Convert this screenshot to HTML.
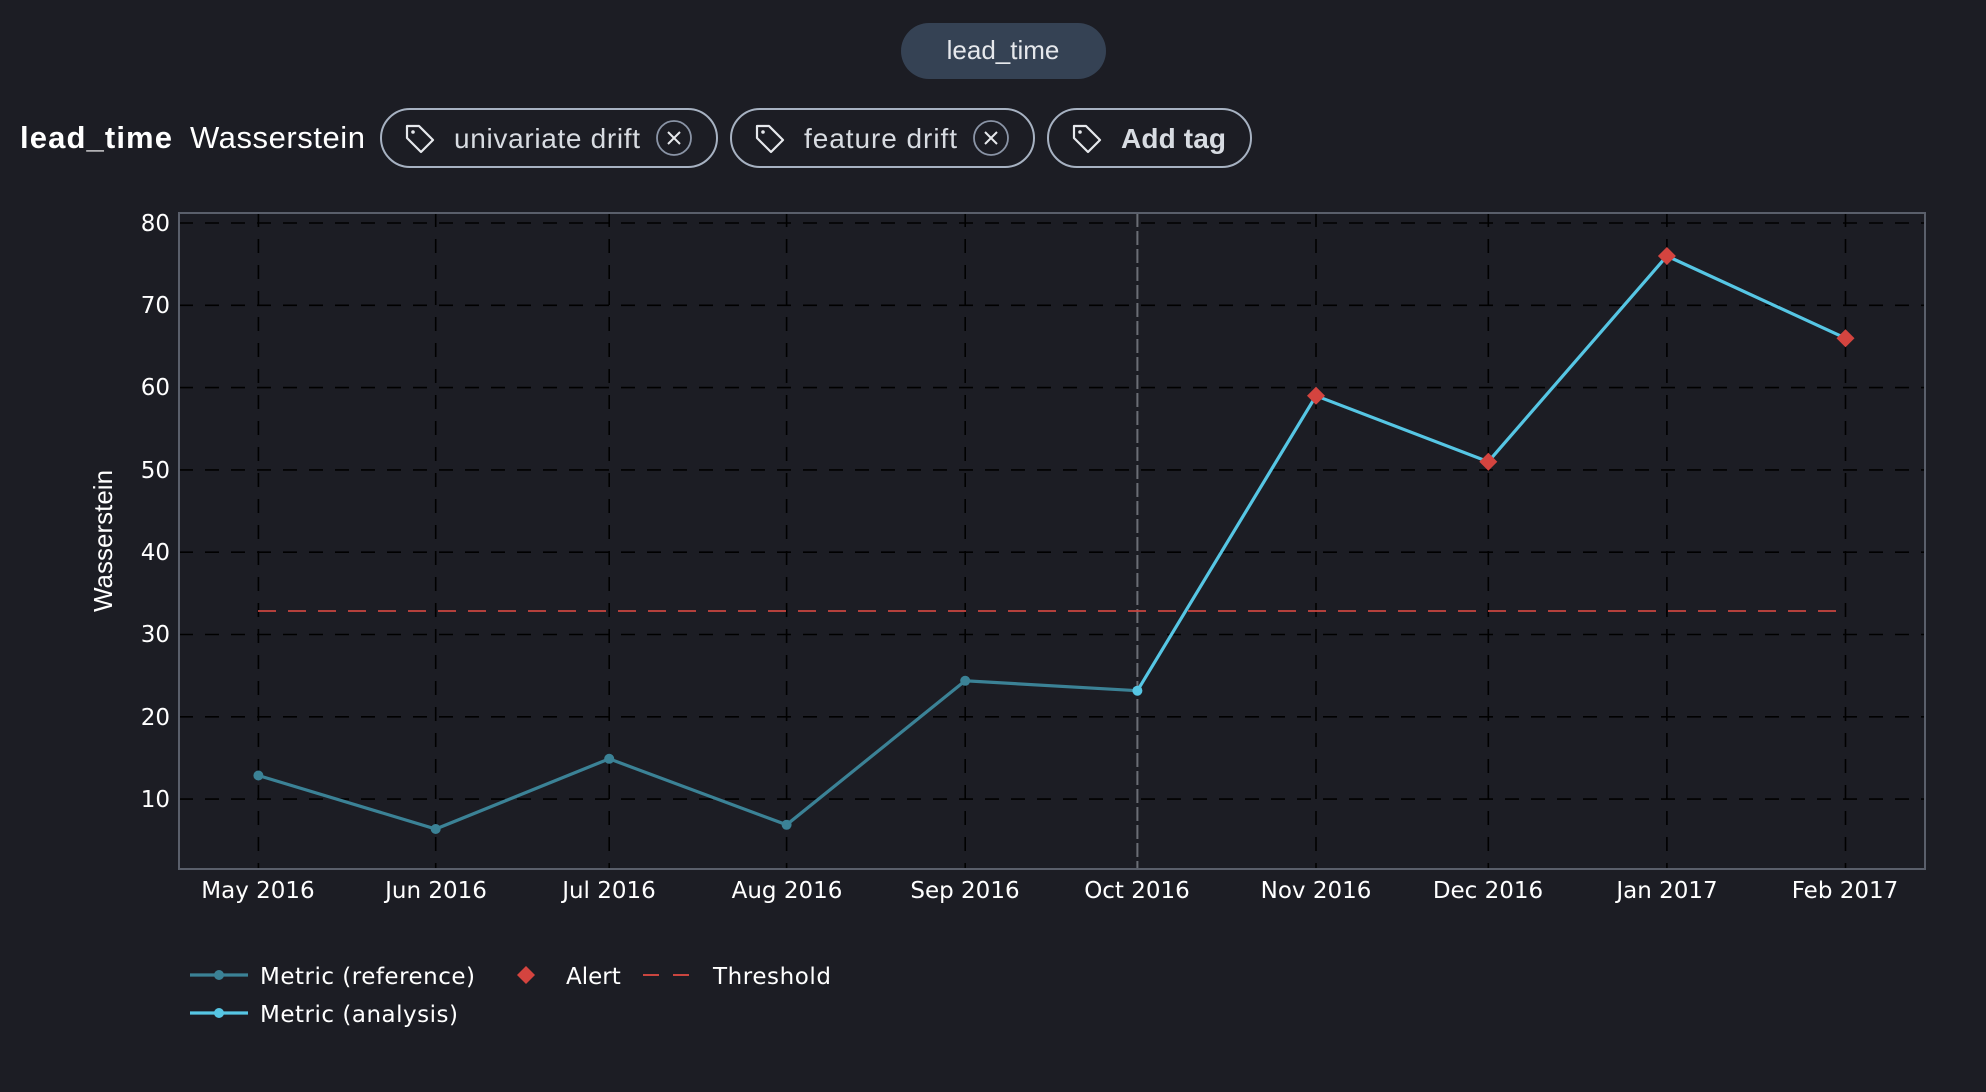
<!DOCTYPE html>
<html><head><meta charset="utf-8"><style>
html,body{margin:0;padding:0;background:#1c1d24;width:1986px;height:1092px;overflow:hidden;font-family:"Liberation Sans",sans-serif;}
</style></head><body>
<svg width="1986" height="1092" xmlns="http://www.w3.org/2000/svg" font-family="Liberation Sans, sans-serif">
<rect width="1986" height="1092" fill="#1c1d24"/>
<rect x="901" y="23" width="205" height="56" rx="28" fill="#354254"/>
<text x="1003" y="59" fill="#e6e8ec" font-size="26" text-anchor="middle">lead_time</text>
<text x="20" y="148" fill="#ffffff" font-size="31" font-weight="bold" textLength="152">lead_time</text>
<text x="190" y="148" fill="#ffffff" font-size="31" textLength="175">Wasserstein</text>
<g fill="none" stroke="#a7b2c2" stroke-width="2">
<rect x="381" y="109" width="336" height="58" rx="29"/>
<rect x="731" y="109" width="303" height="58" rx="29"/>
<rect x="1048" y="109" width="203" height="58" rx="29"/>
</g>
<g fill="none" stroke="#e6e8ec" stroke-width="2.2" stroke-linejoin="round">
<path d="M407 126 h12 l14 14 -12 12 -14 -14 z"/>
<path d="M757 126 h12 l14 14 -12 12 -14 -14 z"/>
<path d="M1074 126 h12 l14 14 -12 12 -14 -14 z"/>
</g>
<g fill="#e6e8ec"><circle cx="413" cy="132" r="1.8"/><circle cx="763" cy="132" r="1.8"/><circle cx="1080" cy="132" r="1.8"/></g>
<g fill="none" stroke="#8a94a6" stroke-width="1.8">
<circle cx="674" cy="138" r="17"/><circle cx="991" cy="138" r="17"/>
</g>
<g stroke="#e6e8ec" stroke-width="2"><path d="M668 132 l12 12 M680 132 l-12 12"/><path d="M985 132 l12 12 M997 132 l-12 12"/></g>
<text x="454" y="148" fill="#d8dce2" font-size="28" textLength="186">univariate drift</text>
<text x="804" y="148" fill="#d8dce2" font-size="28" textLength="153">feature drift</text>
<text x="1121" y="148" fill="#d8dce2" font-size="28" font-weight="bold" textLength="105">Add tag</text>
<g stroke="#000" stroke-width="1.6" stroke-dasharray="14,12">
<line x1="179" x2="1925" y1="223" y2="223"/>
<line x1="179" x2="1925" y1="305.3" y2="305.3"/>
<line x1="179" x2="1925" y1="387.6" y2="387.6"/>
<line x1="179" x2="1925" y1="469.9" y2="469.9"/>
<line x1="179" x2="1925" y1="552.2" y2="552.2"/>
<line x1="179" x2="1925" y1="634.5" y2="634.5"/>
<line x1="179" x2="1925" y1="716.8" y2="716.8"/>
<line x1="179" x2="1925" y1="799.1" y2="799.1"/>
<line x1="258.4" x2="258.4" y1="213" y2="869"/>
<line x1="435.7" x2="435.7" y1="213" y2="869"/>
<line x1="609.2" x2="609.2" y1="213" y2="869"/>
<line x1="786.6" x2="786.6" y1="213" y2="869"/>
<line x1="965.2" x2="965.2" y1="213" y2="869"/>
<line x1="1316" x2="1316" y1="213" y2="869"/>
<line x1="1488.3" x2="1488.3" y1="213" y2="869"/>
<line x1="1666.9" x2="1666.9" y1="213" y2="869"/>
<line x1="1845.5" x2="1845.5" y1="213" y2="869"/>
</g>
<line x1="1137.4" x2="1137.4" y1="213" y2="869" stroke="#6b6e76" stroke-width="2" stroke-dasharray="14,4"/>
<rect x="179" y="213" width="1746" height="656" fill="none" stroke="#5a5f6b" stroke-width="2"/>
<g fill="#ffffff" font-size="23" text-anchor="end" font-family="DejaVu Sans, sans-serif">
<text x="170" y="231">80</text><text x="170" y="313">70</text><text x="170" y="395">60</text><text x="170" y="478">50</text><text x="170" y="560">40</text><text x="170" y="642">30</text><text x="170" y="725">20</text><text x="170" y="807">10</text>
</g>
<text transform="translate(112,541) rotate(-90)" fill="#ffffff" font-size="26" text-anchor="middle">Wasserstein</text>
<g fill="#ffffff" font-size="23" text-anchor="middle" font-family="DejaVu Sans, sans-serif">
<text x="258" y="898">May 2016</text><text x="436" y="898">Jun 2016</text><text x="609" y="898">Jul 2016</text><text x="787" y="898">Aug 2016</text><text x="965" y="898">Sep 2016</text><text x="1137" y="898">Oct 2016</text><text x="1316" y="898">Nov 2016</text><text x="1488" y="898">Dec 2016</text><text x="1667" y="898">Jan 2017</text><text x="1845" y="898">Feb 2017</text>
</g>
<line x1="258" x2="1846" y1="611" y2="611" stroke="#c9453f" stroke-width="1.8" stroke-dasharray="18,12"/>
<polyline fill="none" stroke="#3b8296" stroke-width="3.2" points="258.4,775.5 435.7,829 609.2,758.8 786.6,824.8 965.2,680.8 1137.4,690.7"/>
<g fill="#3b8296"><circle cx="258.4" cy="775.5" r="5"/><circle cx="435.7" cy="829" r="5"/><circle cx="609.2" cy="758.8" r="5"/><circle cx="786.6" cy="824.8" r="5"/><circle cx="965.2" cy="680.8" r="5"/></g>
<polyline fill="none" stroke="#56c6e4" stroke-width="3.2" points="1137.4,690.7 1316,395.8 1488.3,461.7 1666.9,256 1845.5,338.2"/>
<circle cx="1137.4" cy="690.7" r="5" fill="#56c6e4"/>
<g fill="#d4443f">
<path d="M1316 386.8 l9 9 -9 9 -9 -9z"/>
<path d="M1488.3 452.7 l9 9 -9 9 -9 -9z"/>
<path d="M1666.9 247 l9 9 -9 9 -9 -9z"/>
<path d="M1845.5 329.2 l9 9 -9 9 -9 -9z"/>
</g>
<g font-family="DejaVu Sans, sans-serif" fill="#ffffff" font-size="23">
<line x1="190" x2="248" y1="975" y2="975" stroke="#3b8296" stroke-width="3.2"/><circle cx="219" cy="975" r="5" fill="#3b8296"/>
<text x="260" y="984" textLength="215">Metric (reference)</text>
<path d="M526 966 l9 9 -9 9 -9 -9z" fill="#d4443f"/>
<text x="566" y="984">Alert</text>
<line x1="643" x2="697" y1="975" y2="975" stroke="#c9453f" stroke-width="2" stroke-dasharray="16,14"/>
<text x="713" y="984" textLength="118">Threshold</text>
<line x1="190" x2="248" y1="1013" y2="1013" stroke="#56c6e4" stroke-width="3.2"/><circle cx="219" cy="1013" r="5" fill="#56c6e4"/>
<text x="260" y="1022" textLength="198">Metric (analysis)</text>
</g>
</svg>
</body></html>
